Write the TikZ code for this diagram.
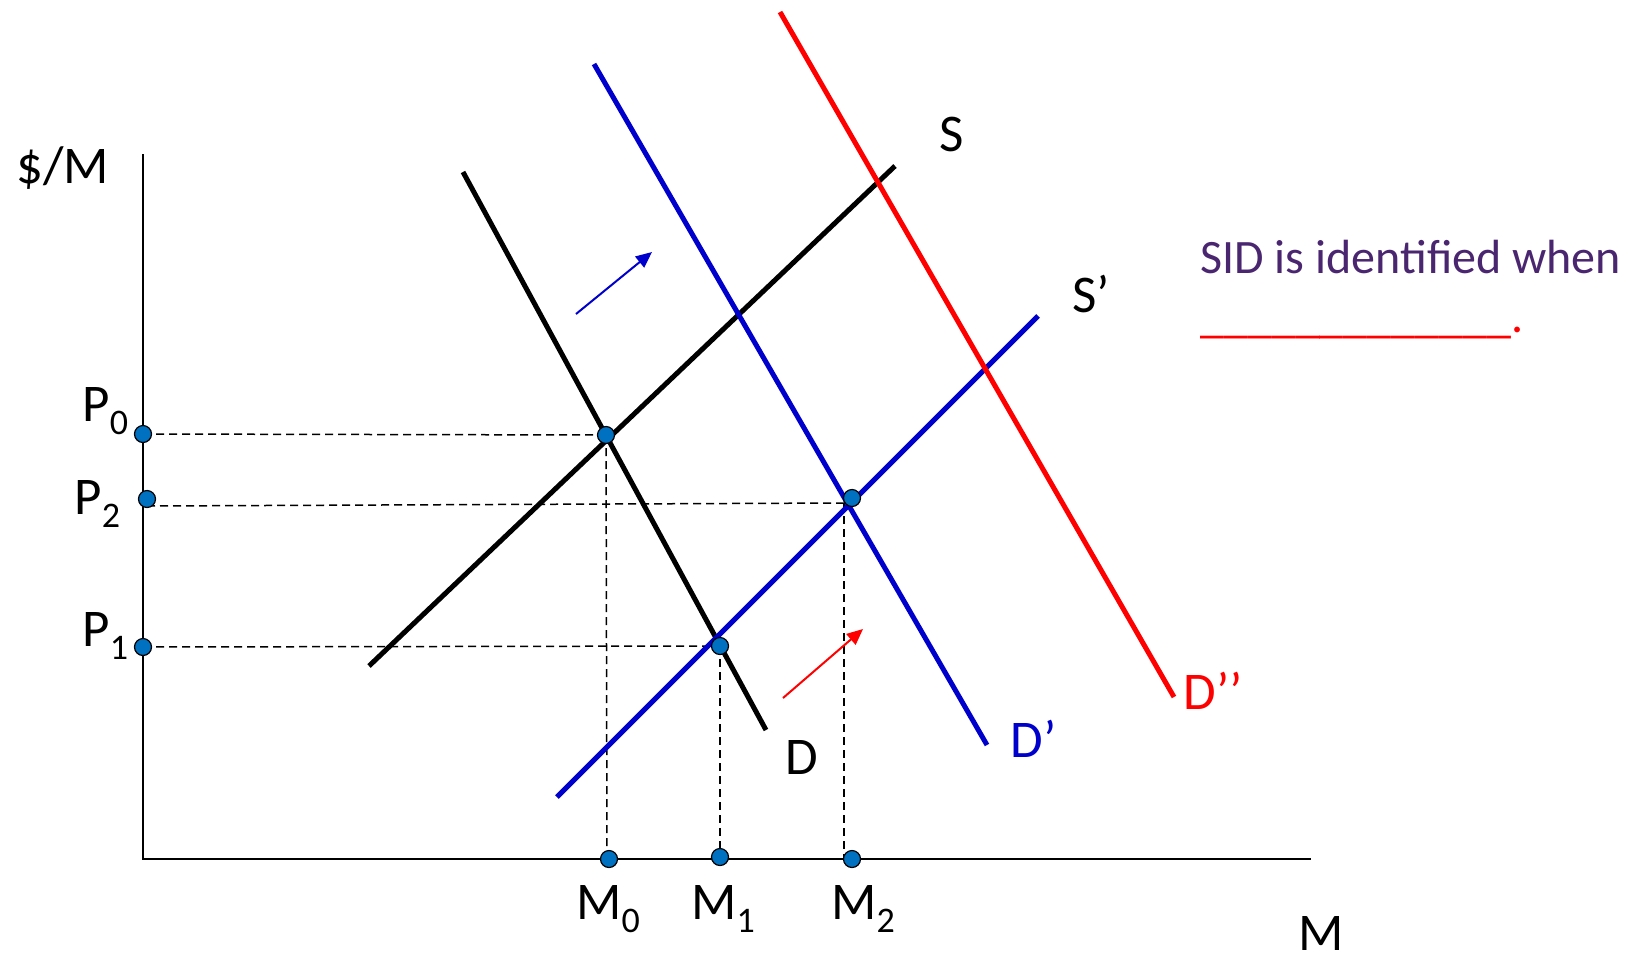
\documentclass[tikz,border=0pt]{standalone}
\usepackage{fontspec}
\setmainfont{Carlito}
\usetikzlibrary{arrows.meta}
\definecolor{dotblue}{RGB}{0,112,192}
\definecolor{lineblue}{RGB}{0,0,204}
\definecolor{sidpurple}{RGB}{75,38,112}
\newcommand{\subsc}[1]{\raisebox{-6.5bp}{\fontsize{18bp}{18bp}\selectfont #1}}
\begin{document}
\begin{tikzpicture}[x=0.5bp,y=-0.5bp,
  axis/.style={line width=1.1bp},
  guide/.style={line width=0.75bp, dash pattern=on 4bp off 2.5bp},
  curve/.style={line width=2.5bp},
  shiftarrow/.style={line width=1bp,-{Triangle[length=8bp,width=7bp]}},
  dot/.style={circle, fill=dotblue, draw=black, line width=0.6bp, minimum size=8.5bp, inner sep=0pt},
  lab/.style={anchor=base west, inner sep=0pt, font=\fontsize{26.5bp}{30bp}\selectfont},
  note/.style={anchor=base west, inner sep=0pt, font=\fontsize{24bp}{28bp}\selectfont}]
\useasboundingbox (0,0) rectangle (1636,956);
% axes
\coordinate (ytop) at (143,154);
\coordinate (orig) at (143,859);
\coordinate (xend) at (1311,859);
\draw[axis] (ytop) -- (orig) -- (xend);
% guide coordinates
\coordinate (p0c) at (143,434);
\coordinate (p2c) at (147,499);
\coordinate (p1c) at (143,647);
\coordinate (e0c) at (606,435);
\coordinate (e1c) at (720,646);
\coordinate (e2c) at (852,498);
\coordinate (m0c) at (609,859);
\coordinate (m1c) at (720,857);
\coordinate (m2c) at (852,859);
\coordinate (p2l) at (147,506);
\coordinate (e2l) at (844,503);
\coordinate (m0t) at (607,859);
\coordinate (m2b) at (844,859);
% dashed guides
\draw[guide] (p0c) -- (e0c);
\draw[guide] (p2l) -- (e2l);
\draw[guide] (p1c) -- (e1c);
\draw[guide] (e0c) -- (m0t);
\draw[guide] (e1c) -- (m1c);
\draw[guide] (e2l) -- (m2b);
% curves
\coordinate (dA) at (463,172);  \coordinate (dB) at (766,730);
\coordinate (sA) at (369,666);  \coordinate (sB) at (895,166);
\coordinate (d1A) at (594,64);  \coordinate (d1B) at (987,745);
\coordinate (s1A) at (557,797); \coordinate (s1B) at (1038,316);
\coordinate (d2A) at (780,12);  \coordinate (d2B) at (1174,697);
\draw[curve, black] (dA) -- (dB);
\draw[curve, black] (sA) -- (sB);
\draw[curve, lineblue] (d1A) -- (d1B);
\draw[curve, lineblue] (s1A) -- (s1B);
\draw[curve, red] (d2A) -- (d2B);
% shift arrows
\coordinate (baS) at (576,314); \coordinate (baE) at (652,252);
\coordinate (raS) at (783,698); \coordinate (raE) at (863,629);
\draw[shiftarrow, lineblue] (baS) -- (baE);
\draw[shiftarrow, red] (raS) -- (raE);
% dots
\node[dot] (p0) at (p0c) {};
\node[dot] (p2) at (p2c) {};
\node[dot] (p1) at (p1c) {};
\node[dot] (e0) at (e0c) {};
\node[dot] (e1) at (e1c) {};
\node[dot] (e2) at (e2c) {};
\node[dot] (m0) at (m0c) {};
\node[dot] (m1) at (m1c) {};
\node[dot] (m2) at (m2c) {};
% labels
\node[lab] (ylab) at (16,183) {\$/M};
\node[lab] (xlab) at (1298,950) {M};
\node[lab] (lp0) at (82,421) {P\subsc{0}};
\node[lab] (lp2) at (74,514) {P\subsc{2}};
\node[lab] (lp1) at (82,646) {P\subsc{1}};
\node[lab] (lm0) at (576,919) {M\subsc{0}};
\node[lab] (lm1) at (691,919) {M\subsc{1}};
\node[lab] (lm2) at (831,919) {M\subsc{2}};
\node[lab] (ls) at (939,151) {S};
\node[lab] (ls1) at (1072,312) {S’};
\node[lab] (ld) at (785,774) {D};
\node[lab, text=lineblue] (ld1) at (1010,757) {D’};
\node[lab, text=red] (ld2) at (1183,709) {D’’};
\node[note, text=sidpurple] (sid) at (1200,273) {SID is identified when};
\node[note, text=red] (blank) at (1200,332) {\_\_\_\_\_\_\_\_\_\_\_\_\_.};
\end{tikzpicture}
\end{document}
